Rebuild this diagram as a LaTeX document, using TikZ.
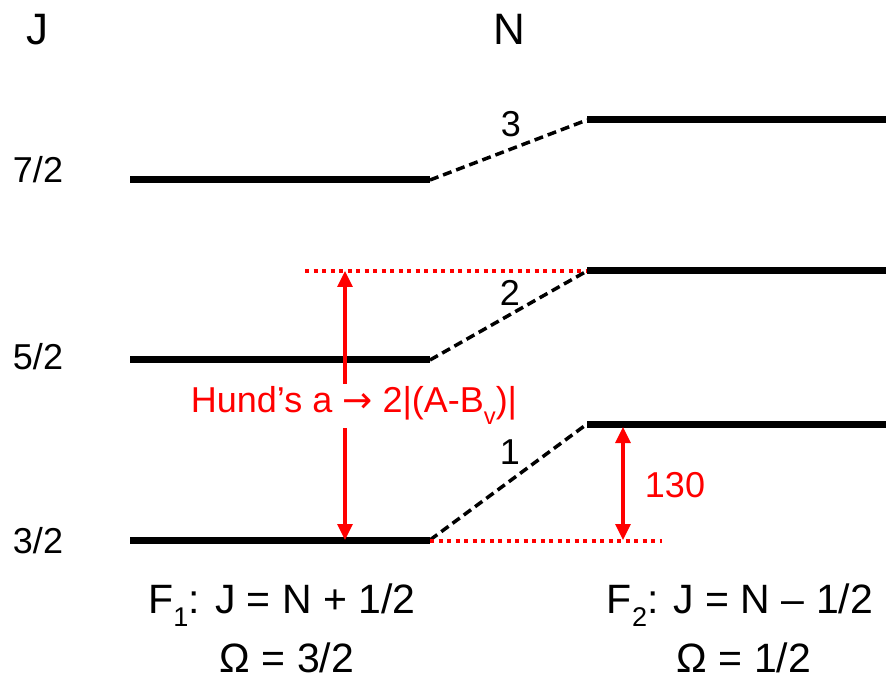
\documentclass[tikz,border=0pt]{standalone}
\usepackage{fontspec}
\setmainfont{Liberation Sans}
\newfontfamily\arrowfont{DejaVu Sans}
\usetikzlibrary{arrows.meta}
\newcommand{\lowidx}[1]{\raisebox{-.32em}{\scalebox{.66}{#1}}}

\begin{document}
\begin{tikzpicture}[x=1pt, y=-1pt,
    level/.style={line width=7pt},
    link/.style={line width=3.5pt, dash pattern=on 9pt off 5pt},
    guide/.style={draw=red, line width=3.5pt, dash pattern=on 4pt off 4.5pt},
    gap/.style={draw=red, line width=3.2pt,
        {Triangle[length=16pt, width=15pt]}-{Triangle[length=16pt, width=15pt]}},
    num/.style={font=\fontsize{36}{40}\selectfont, inner sep=0pt},
    head/.style={font=\fontsize{44}{48}\selectfont, inner sep=0pt},
    branch/.style={font=\fontsize{41}{46}\selectfont, inner sep=0pt,
        anchor=base},
]
    \useasboundingbox (0,0) rectangle (886,684);

    %% column heads
    \node[head] (jhead) at (38,30) {J};
    \node[head] (nhead) at (509,29) {N};

    %% F1 levels on the left, with their J values
    \foreach \n/\y/\j/\b in {a/180/{7/2}/183, b/360/{5/2}/370,
            c/540/{3/2}/553}{
        \coordinate (f1\n-w) at (130,\y);
        \coordinate (f1\n-e) at (430,\y);
        \draw[level] (f1\n-w) -- (f1\n-e);
        \node[num, anchor=base] (j\n) at (38,\b) {\j};
    }

    %% F2 levels on the right, joined to the F1 level of the same N
    \foreach \n/\y in {a/120, b/271, c/424}{
        \coordinate (f2\n-w) at (587,\y);
        \coordinate (f2\n-e) at (886,\y);
        \draw[level] (f2\n-w) -- (f2\n-e);
        \draw[link] (f1\n-e) -- (f2\n-w);
    }
    \node[num] (n3) at (511,124) {3};
    \node[num] (n2) at (510,293) {2};
    \node[num] (n1) at (510,452) {1};

    %% the two splittings
    \coordinate (hund-from) at (305,271);
    \coordinate (hund-hi) at (345,271);
    \coordinate (hund-lo) at (345,540);
    \coordinate (spin-end) at (662,541);
    \coordinate (spin-hi) at (623,427);
    \coordinate (spin-lo) at (623,540);
    \draw[guide] (hund-from) -- (f2b-w);
    \draw[guide] (f1c-e |- spin-end) -- (spin-end);
    \draw[gap] (hund-hi) -- (hund-lo);
    \draw[gap] (spin-hi) -- (spin-lo);
    \node[num, red, fill=white, inner sep=3pt, anchor=base] (hund)
        at (354,413) {Hund’s a {\arrowfont →} 2|(A-B\lowidx{v})|};
    \node[num, red] (split) at (675,485) {130};

    %% the two spin components
    \node[branch] (f1rule) at (282,613) {F\lowidx{1}: J = N + 1/2};
    \node[branch] (f1omega) at (287,672) {Ω = 3/2};
    \node[branch] (f2rule) at (740,613) {F\lowidx{2}: J = N – 1/2};
    \node[branch] (f2omega) at (744,672) {Ω = 1/2};
\end{tikzpicture}
\end{document}
